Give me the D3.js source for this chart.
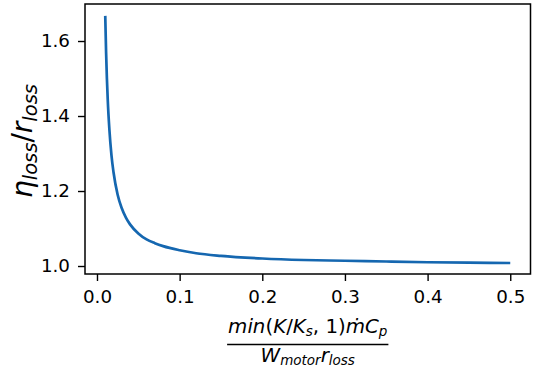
<!DOCTYPE html>
<html>
<head>
<meta charset="utf-8">
<script src="https://cdn.jsdelivr.net/npm/d3@7"></script>
<style>
  body { margin: 0; background: #fff; }
  svg { display: block; font-family: "DejaVu Sans", sans-serif; }
</style>
</head>
<body>
<svg id="chart" width="536" height="369"></svg>
<script>
// values
const xValues = [0.01, 0.011, 0.012, 0.013, 0.015, 0.0175, 0.02, 0.025, 0.03, 0.035, 0.04,
  0.05, 0.06, 0.07, 0.08, 0.1, 0.12, 0.15, 0.2, 0.25, 0.3, 0.35, 0.4, 0.45, 0.5];
const yValues = [1.667, 1.571, 1.500, 1.444, 1.364, 1.296, 1.250, 1.190, 1.154, 1.129, 1.111,
  1.087, 1.071, 1.061, 1.053, 1.042, 1.034, 1.027, 1.020, 1.016, 1.014, 1.012, 1.010, 1.009, 1.008];
const xTicks = [0.0, 0.1, 0.2, 0.3, 0.4, 0.5];
const yTicks = [1.0, 1.2, 1.4, 1.6];

const svg = d3.select('#chart');
const margin = { top: 4, right: 5.5, bottom: 95, left: 85 };
const width = 536, height = 369;

const x = d3.scaleLinear()
  .domain([-0.0145, 0.5245])
  .range([margin.left, width - margin.right]);
const y = d3.scaleLinear()
  .domain([0.9787, 1.6987])
  .range([height - margin.bottom, margin.top]);

const data = xValues.map((v, i) => ({ x: v, y: yValues[i] }));

// curve
svg.append('path')
  .datum(data)
  .attr('fill', 'none')
  .attr('stroke', '#1567b0')
  .attr('stroke-width', 2.7)
  .attr('stroke-linejoin', 'round')
  .attr('d', d3.line().x(d => x(d.x)).y(d => y(d.y)).curve(d3.curveMonotoneX));

// axes
const xAxis = svg.append('g')
  .attr('transform', `translate(0,${height - margin.bottom})`)
  .call(d3.axisBottom(x).tickValues(xTicks).tickFormat(d3.format('.1f')).tickSize(7).tickPadding(9));
const yAxis = svg.append('g')
  .attr('transform', `translate(${margin.left},0)`)
  .call(d3.axisLeft(y).tickValues(yTicks).tickFormat(d3.format('.1f')).tickSize(7).tickPadding(8));

[xAxis, yAxis].forEach(g => {
  g.select('.domain').remove();
  g.selectAll('line').attr('stroke', '#000').attr('stroke-width', 1.4);
  g.selectAll('text').attr('fill', '#000').style('font-size', '18.3px').style('font-family', '"DejaVu Sans", sans-serif');
});

// frame
svg.append('rect')
  .attr('x', margin.left)
  .attr('y', margin.top)
  .attr('width', width - margin.right - margin.left)
  .attr('height', height - margin.bottom - margin.top)
  .attr('fill', 'none')
  .attr('stroke', '#000')
  .attr('stroke-width', 1.5);

// y label: eta_loss / r_loss
const yLab = svg.append('text')
  .attr('transform', `translate(32,${(margin.top + height - margin.bottom) / 2 + 2}) rotate(-90)`)
  .attr('text-anchor', 'middle')
  .style('font-size', '28px')
  .style('font-style', 'italic');
yLab.append('tspan').text('η');
yLab.append('tspan').attr('dy', 5).style('font-size', '19.5px').text('loss');
yLab.append('tspan').attr('dy', -5).style('font-style', 'normal').text('/');
yLab.append('tspan').text('r');
yLab.append('tspan').attr('dy', 5).style('font-size', '19.5px').text('loss');

// x label: fraction
const cx = (margin.left + width - margin.right) / 2;
const num = svg.append('text')
  .attr('x', cx).attr('y', 333)
  .attr('text-anchor', 'middle')
  .style('font-size', '19.8px');
num.append('tspan').style('font-style', 'italic').text('min');
num.append('tspan').text('(');
num.append('tspan').style('font-style', 'italic').text('K');
num.append('tspan').text('/');
num.append('tspan').style('font-style', 'italic').text('K');
num.append('tspan').attr('dy', 3).style('font-size', '13.5px').style('font-style', 'italic').text('s');
num.append('tspan').attr('dy', -3).text(', 1)');
num.append('tspan').style('font-style', 'italic').text('ṁC');
num.append('tspan').attr('dy', 3).style('font-size', '13.5px').style('font-style', 'italic').text('p');

const den = svg.append('text')
  .attr('x', cx).attr('y', 362)
  .attr('text-anchor', 'middle')
  .style('font-size', '19.8px')
  .style('font-style', 'italic');
den.append('tspan').text('W');
den.append('tspan').attr('dy', 3).style('font-size', '13.5px').text('motor');
den.append('tspan').attr('dy', -3).text('r');
den.append('tspan').attr('dy', 3).style('font-size', '13.5px').text('loss');

const nb = num.node().getBBox();
const db = den.node().getBBox();
const fx0 = Math.min(nb.x, db.x) - 1, fx1 = Math.max(nb.x + nb.width, db.x + db.width) + 1;
svg.append('line')
  .attr('x1', fx0).attr('x2', fx1)
  .attr('y1', 344.5).attr('y2', 344.5)
  .attr('stroke', '#000').attr('stroke-width', 1.3);
</script>
</body>
</html>
